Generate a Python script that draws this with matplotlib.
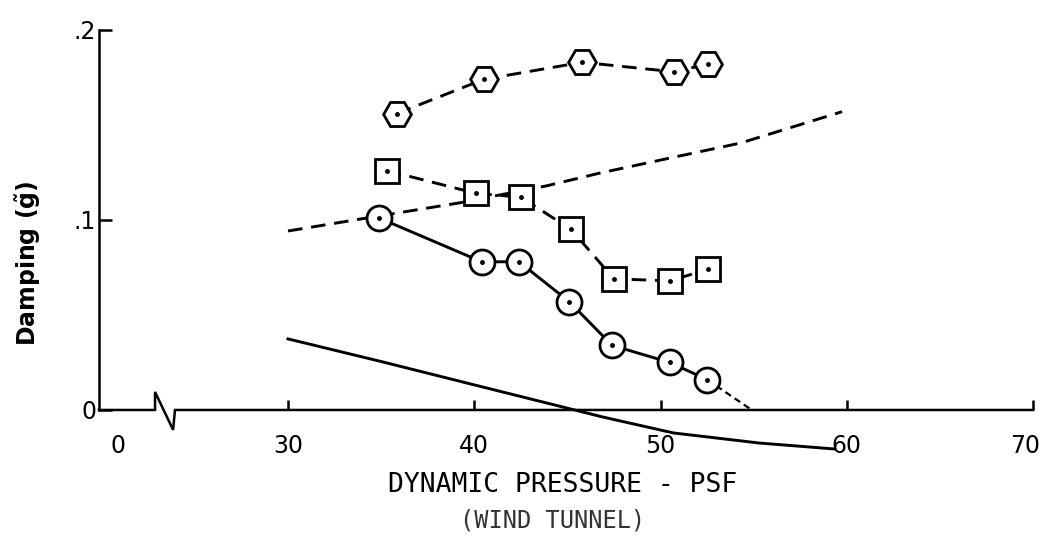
import matplotlib

matplotlib.use("Agg")

import matplotlib.pyplot as plt
from matplotlib.transforms import ScaledTranslation

# dynamic pressure (psf) and damping values
circle_q = [34.9, 40.4, 42.4, 45.1, 47.4, 50.5, 52.5]
circle_g = [0.101, 0.078, 0.078, 0.057, 0.034, 0.025, 0.016]
circle_tail_q = [52.5, 54.9]
circle_tail_g = [0.016, 0.0]

square_q = [35.3, 40.1, 42.5, 45.2, 47.5, 50.5, 52.55]
square_g = [0.126, 0.114, 0.112, 0.095, 0.069, 0.068, 0.074]

hex_q = [35.85, 40.5, 45.8, 50.7, 52.55]
hex_g = [0.156, 0.174, 0.183, 0.178, 0.182]

# analysis curves (no symbols)
dash_q = [30.0, 34.2, 39.2, 43.9, 46.75, 50.7, 54.3, 59.75]
dash_g = [0.0942, 0.101, 0.109, 0.118, 0.1247, 0.133, 0.1405, 0.157]

solid_q = [30.0, 35.0, 39.8, 46.9, 50.7, 55.3, 59.3]
solid_g = [0.0374, 0.0255, 0.0137, -0.0037, -0.0121, -0.0174, -0.0205]

x_ticks = [30, 40, 50, 60, 70]
y_ticks = [0.0, 0.1, 0.2]
y_ticklabels = ["0", ".1", ".2"]
zero_pos = 20.87  # where the "0" label sits left of the axis break

fig = plt.figure(figsize=(10.43, 5.47), dpi=100)
ax = fig.add_axes([0.0949, 0.1463, 0.8955, 0.7989])
ax.set_xlim(19.85, 70)
ax.set_ylim(-0.03, 0.2)

lw = 2.1
dash = (0, (5, 3))
ax.plot(dash_q, dash_g, color="black", lw=lw, linestyle=dash)
ax.plot(solid_q, solid_g, color="black", lw=lw)

ax.plot(circle_q, circle_g, color="black", lw=lw)
ax.plot(circle_tail_q, circle_tail_g, color="black", lw=1.6, linestyle=(0, (3, 2)))
ax.plot(square_q, square_g, color="black", lw=lw, linestyle=dash)
ax.plot(hex_q, hex_g, color="black", lw=lw, linestyle=dash)

mk = dict(linestyle="none", markerfacecolor="white", markeredgecolor="black",
          markeredgewidth=2.0, zorder=4)
ax.plot(circle_q, circle_g, marker="o", markersize=18, **mk)
ax.plot(square_q, square_g, marker="s", markersize=17, **mk)
ax.plot(hex_q, hex_g, marker="H", markersize=20, **mk)
for q, g in [(circle_q, circle_g), (square_q, square_g), (hex_q, hex_g)]:
    ax.plot(q, g, linestyle="none", marker="o", markersize=2.5, color="black", zorder=5)

# x axis drawn by hand so it carries the break symbol
ax.plot([19.85, 22.86, 22.86, 23.83, 23.93, 70], [0, 0, 0.0095, -0.0105, 0, 0],
        color="black", lw=1.8, clip_on=False, solid_joinstyle="miter")

for side in ["top", "right"]:
    ax.spines[side].set_visible(False)
ax.spines["bottom"].set_position(("data", 0))
ax.spines["bottom"].set_visible(False)
ax.spines["left"].set_bounds(0, 0.2)
ax.spines["left"].set_linewidth(1.8)

ax.set_xticks([zero_pos] + x_ticks)
ax.set_xticklabels(["0"] + [str(t) for t in x_ticks])
ax.tick_params(axis="x", direction="in", length=7, width=1.8, pad=17, labelsize=17)
ax.xaxis.get_major_ticks()[0].tick1line.set_visible(False)
last = ax.get_xticklabels()[-1]
last.set_transform(last.get_transform() + ScaledTranslation(-0.08, 0, fig.dpi_scale_trans))

ax.set_yticks(y_ticks)
ax.set_yticklabels(y_ticklabels)
ax.tick_params(axis="y", direction="in", length=9, width=1.8, pad=2, labelsize=17)

fig.text(0.027, 0.519, r"Damping ($\tilde{\mathbf{g}}$)", rotation=90,
         ha="center", va="center", fontsize=17, fontweight="bold")
fig.text(0.539, 0.113, "DYNAMIC PRESSURE - PSF", ha="center", va="center",
         fontsize=19, family="DejaVu Sans Mono")
fig.text(0.530, 0.049, "(WIND TUNNEL)", ha="center", va="center",
         fontsize=17, family="DejaVu Sans Mono", color="#333333")

fig.savefig("out.png", dpi=100)
plt.close(fig)
